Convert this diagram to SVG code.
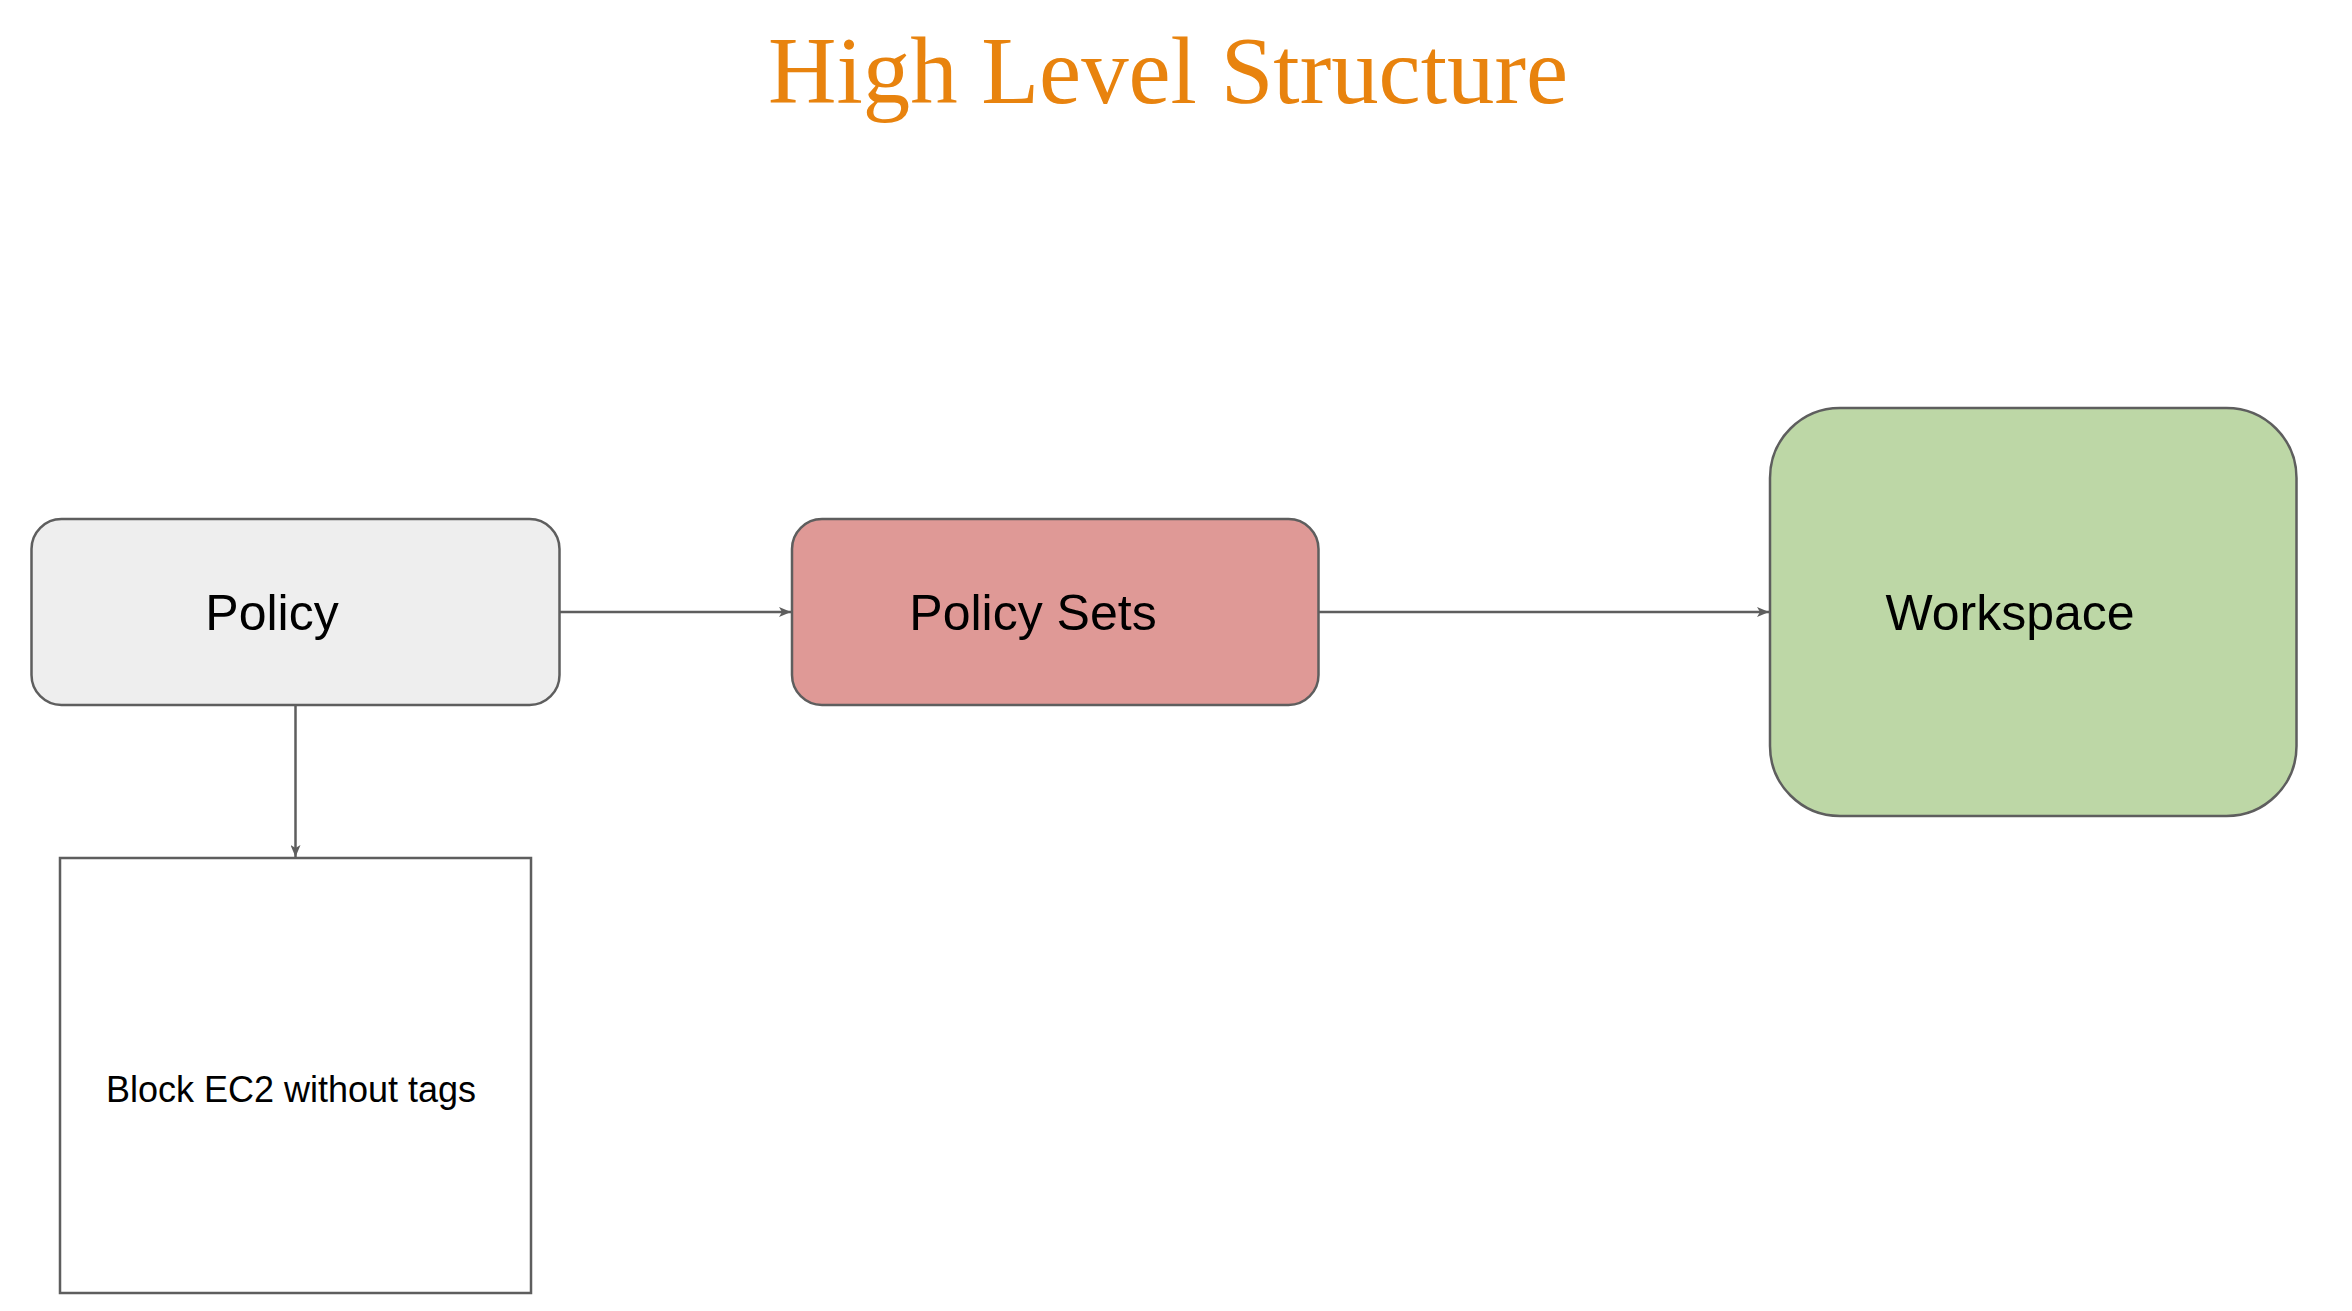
<svg xmlns="http://www.w3.org/2000/svg" width="2352" height="1311" viewBox="0 0 2352 1311">
<style>
.box{stroke:#5e5e5e;stroke-width:2.5}
.lbl{font-family:"Liberation Sans",Arial,sans-serif;fill:#000;font-size:50px}
.edge{stroke:#5e5e5e;stroke-width:2.5;fill:none;marker-end:url(#arr)}
</style>
<defs>
<marker id="arr" viewBox="0 0 12 10" refX="12" refY="5" markerWidth="12" markerHeight="10" markerUnits="userSpaceOnUse" orient="auto">
<path d="M0,0 L12,5 L0,10 L3,5 Z" fill="#5e5e5e"/>
</marker>
</defs>
<rect width="2352" height="1311" fill="#fff"/>
<text x="1168" y="103" text-anchor="middle" font-family="'Liberation Serif','Times New Roman',serif" font-size="96" fill="#e8830e" textLength="800" lengthAdjust="spacingAndGlyphs">High Level Structure</text>
<g id="connectors">
<path class="edge" d="M559.5,612 L791,612"/>
<path class="edge" d="M1318.5,612 L1769,612"/>
<path class="edge" d="M295.5,705 L295.5,857"/>
</g>
<g id="policy">
<rect class="box" x="31.5" y="519" width="528" height="186" rx="30" fill="#eeeeee"/>
<text class="lbl" x="272" y="630" text-anchor="middle">Policy</text>
</g>
<g id="policy-sets">
<rect class="box" x="792" y="519" width="526.5" height="186" rx="30" fill="#df9996"/>
<text class="lbl" x="1033" y="630" text-anchor="middle">Policy Sets</text>
</g>
<g id="workspace">
<rect class="box" x="1770" y="408" width="526.5" height="408" rx="70" fill="#bdd7a6"/>
<text class="lbl" x="2010" y="630" text-anchor="middle">Workspace</text>
</g>
<g id="block">
<rect class="box" x="60" y="858" width="471" height="435" fill="#ffffff"/>
<text class="lbl" x="291" y="1102" text-anchor="middle" style="font-size:36px">Block EC2 without tags</text>
</g>
</svg>
